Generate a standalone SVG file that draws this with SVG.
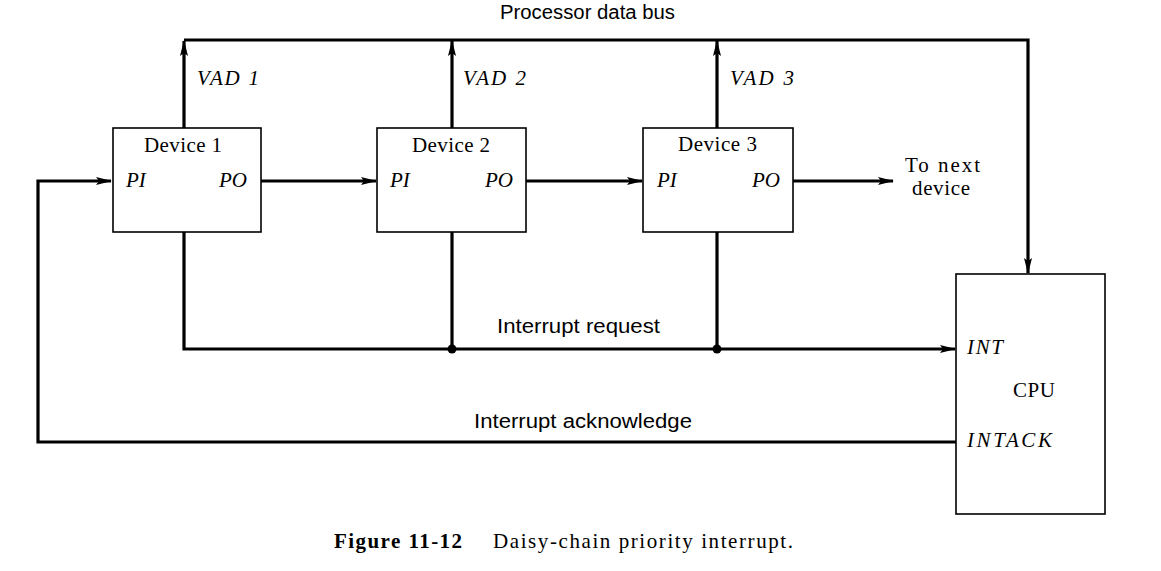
<svg xmlns="http://www.w3.org/2000/svg" width="1161" height="571" viewBox="0 0 1161 571">
<style>
.box{fill:#fff;stroke:#000;stroke-width:1.6}
.w{fill:none;stroke:#000;stroke-width:3.2;stroke-linejoin:miter}
.t{font-family:"Liberation Serif",serif;font-size:21px;fill:#000}
.i{font-family:"Liberation Serif",serif;font-style:italic;font-size:21px;fill:#000}
.s{font-family:"Liberation Sans",sans-serif;font-size:20px;fill:#000}
.cap{font-family:"Liberation Serif",serif;font-size:21px;fill:#000}
</style>
<defs>
<marker id="ah" viewBox="0 0 16 10" refX="15" refY="5" markerWidth="16" markerHeight="10" markerUnits="userSpaceOnUse" orient="auto">
<path d="M0,1 L16,5 L0,9 L3,5 Z" fill="#000"/>
</marker>
</defs>
<rect width="1161" height="571" fill="#fff"/>
<g id="connectors">
<path class="w" d="M184,40 H1028 V273" marker-end="url(#ah)"/>
<path class="w" d="M184,128 V41" marker-end="url(#ah)"/>
<path class="w" d="M452,128 V41" marker-end="url(#ah)"/>
<path class="w" d="M717,128 V41" marker-end="url(#ah)"/>
<path class="w" d="M261,181 H376" marker-end="url(#ah)"/>
<path class="w" d="M526,181 H642" marker-end="url(#ah)"/>
<path class="w" d="M793,181 H893" marker-end="url(#ah)"/>
<path class="w" d="M184,232 V349 H955" marker-end="url(#ah)"/>
<path class="w" d="M452,232 V349"/>
<path class="w" d="M717,232 V349"/>
<circle cx="452" cy="349" r="4.5" fill="#000"/>
<circle cx="717" cy="349" r="4.5" fill="#000"/>
<path class="w" d="M956,442 H38 V181 H111" marker-end="url(#ah)"/>
<text class="s" x="500" y="19" textLength="175" lengthAdjust="spacingAndGlyphs">Processor data bus</text>
<text class="i" x="197" y="85" textLength="62" lengthAdjust="spacing">VAD 1</text>
<text class="i" x="463" y="85" textLength="63" lengthAdjust="spacing">VAD 2</text>
<text class="i" x="730" y="85" textLength="64" lengthAdjust="spacing">VAD 3</text>
<text class="s" x="497" y="333" textLength="163" lengthAdjust="spacingAndGlyphs">Interrupt request</text>
<text class="s" x="474" y="428" textLength="218" lengthAdjust="spacingAndGlyphs">Interrupt acknowledge</text>
<text class="t" x="905" y="172" textLength="75" lengthAdjust="spacing">To next</text>
<text class="t" x="912" y="195" textLength="58" lengthAdjust="spacing">device</text>
</g>
<g id="device1">
<rect class="box" x="113" y="128" width="148" height="104"/>
<text class="t" x="144" y="152" textLength="78" lengthAdjust="spacing">Device 1</text>
<text class="i" x="126" y="187">PI</text>
<text class="i" x="247" y="187" text-anchor="end">PO</text>
</g>
<g id="device2">
<rect class="box" x="377" y="128" width="149" height="104"/>
<text class="t" x="412" y="152" textLength="78" lengthAdjust="spacing">Device 2</text>
<text class="i" x="390" y="187">PI</text>
<text class="i" x="513" y="187" text-anchor="end">PO</text>
</g>
<g id="device3">
<rect class="box" x="643" y="128" width="150" height="104"/>
<text class="t" x="678" y="151" textLength="79" lengthAdjust="spacing">Device 3</text>
<text class="i" x="657" y="187">PI</text>
<text class="i" x="780" y="187" text-anchor="end">PO</text>
</g>
<g id="cpu">
<rect class="box" x="956" y="274" width="149" height="240"/>
<text class="i" x="967" y="354" textLength="36" lengthAdjust="spacing">INT</text>
<text class="t" x="1013" y="397" textLength="42" lengthAdjust="spacing">CPU</text>
<text class="i" x="967" y="447" textLength="85" lengthAdjust="spacing">INTACK</text>
</g>
<g id="caption">
<text class="cap" x="334" y="548" font-weight="bold" textLength="128" lengthAdjust="spacing">Figure 11-12</text>
<text class="cap" x="493" y="548" textLength="300" lengthAdjust="spacing">Daisy-chain priority interrupt.</text>
</g>
</svg>
